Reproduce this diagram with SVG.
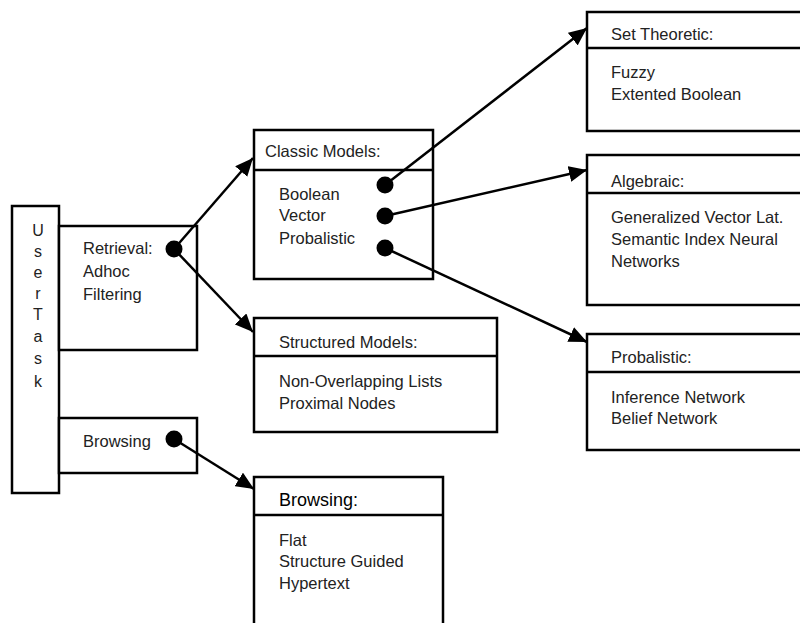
<svg xmlns="http://www.w3.org/2000/svg" width="800" height="623" viewBox="0 0 800 623">
<defs>
<style>
.box{fill:#fff;stroke:#000;stroke-width:2.5}
.div{stroke:#000;stroke-width:2.5}
.t{font-family:"Liberation Sans",Arial,sans-serif;font-size:16.5px;fill:#222}
.ut{font-family:"Liberation Sans",Arial,sans-serif;font-size:16px;fill:#222;text-anchor:middle}
.hb{font-family:"Liberation Sans",Arial,sans-serif;font-size:18px;fill:#000}
.c{stroke:#000;stroke-width:2.5;fill:none;marker-end:url(#ah)}
.dot{fill:#000}
</style>
<marker id="ah" markerUnits="userSpaceOnUse" markerWidth="20" markerHeight="16" refX="18" refY="8" orient="auto">
<path d="M0,0 L18,8 L0,16 Z" fill="#000"/>
</marker>
</defs>
<rect width="800" height="623" fill="#fff"/>
<g id="usertask">
<rect class="box" x="12" y="206" width="47" height="287"/>
<text class="ut" x="38" y="236">U</text>
<text class="ut" x="38" y="257">s</text>
<text class="ut" x="38" y="278">e</text>
<text class="ut" x="38" y="299">r</text>
<text class="ut" x="38" y="320">T</text>
<text class="ut" x="38" y="342">a</text>
<text class="ut" x="38" y="364">s</text>
<text class="ut" x="38" y="387">k</text>
</g>
<g id="retrieval">
<rect class="box" x="59" y="226" width="138" height="124"/>
<text class="t" x="83" y="254">Retrieval:</text>
<text class="t" x="83" y="277">Adhoc</text>
<text class="t" x="83" y="300">Filtering</text>
<circle class="dot" cx="174" cy="249" r="8.5"/>
</g>
<g id="browsing-task">
<rect class="box" x="59" y="418" width="138" height="55"/>
<text class="t" x="83" y="447">Browsing</text>
<circle class="dot" cx="174" cy="439" r="8.5"/>
</g>
<g id="classic">
<rect class="box" x="254" y="130" width="179" height="149"/>
<line class="div" x1="254" y1="170" x2="433" y2="170"/>
<text class="t" x="265" y="157">Classic Models:</text>
<text class="t" x="279" y="200">Boolean</text>
<text class="t" x="279" y="221">Vector</text>
<text class="t" x="279" y="244">Probalistic</text>
<circle class="dot" cx="385" cy="185" r="8.5"/>
<circle class="dot" cx="385" cy="216" r="8.5"/>
<circle class="dot" cx="385" cy="248" r="8.5"/>
</g>
<g id="structured">
<rect class="box" x="254" y="318" width="243" height="114"/>
<line class="div" x1="254" y1="356" x2="497" y2="356"/>
<text class="t" x="279" y="348">Structured Models:</text>
<text class="t" x="279" y="387">Non-Overlapping Lists</text>
<text class="t" x="279" y="409">Proximal Nodes</text>
</g>
<g id="browsing">
<rect class="box" x="254" y="477" width="189" height="160"/>
<line class="div" x1="254" y1="515" x2="443" y2="515"/>
<text class="hb" x="279" y="506">Browsing:</text>
<text class="t" x="279" y="546">Flat</text>
<text class="t" x="279" y="567">Structure Guided</text>
<text class="t" x="279" y="589">Hypertext</text>
</g>
<g id="settheoretic">
<rect class="box" x="587" y="12" width="230" height="119"/>
<line class="div" x1="587" y1="48" x2="817" y2="48"/>
<text class="t" x="611" y="40">Set Theoretic:</text>
<text class="t" x="611" y="78">Fuzzy</text>
<text class="t" x="611" y="100">Extented Boolean</text>
</g>
<g id="algebraic">
<rect class="box" x="587" y="155" width="230" height="150"/>
<line class="div" x1="587" y1="193" x2="817" y2="193"/>
<text class="t" x="611" y="187">Algebraic:</text>
<text class="t" x="611" y="223">Generalized Vector Lat.</text>
<text class="t" x="611" y="245">Semantic Index Neural</text>
<text class="t" x="611" y="267">Networks</text>
</g>
<g id="probalistic">
<rect class="box" x="587" y="334" width="230" height="116"/>
<line class="div" x1="587" y1="372" x2="817" y2="372"/>
<text class="t" x="611" y="363">Probalistic:</text>
<text class="t" x="611" y="403">Inference Network</text>
<text class="t" x="611" y="424">Belief Network</text>
</g>
<g id="connectors">
<line class="c" x1="174" y1="249" x2="253" y2="158"/>
<line class="c" x1="174" y1="249" x2="253" y2="332"/>
<line class="c" x1="174" y1="439" x2="254" y2="489"/>
<line class="c" x1="385" y1="185" x2="587" y2="28"/>
<line class="c" x1="385" y1="216" x2="587" y2="170"/>
<line class="c" x1="385" y1="248" x2="587" y2="342"/>
</g>
</svg>
